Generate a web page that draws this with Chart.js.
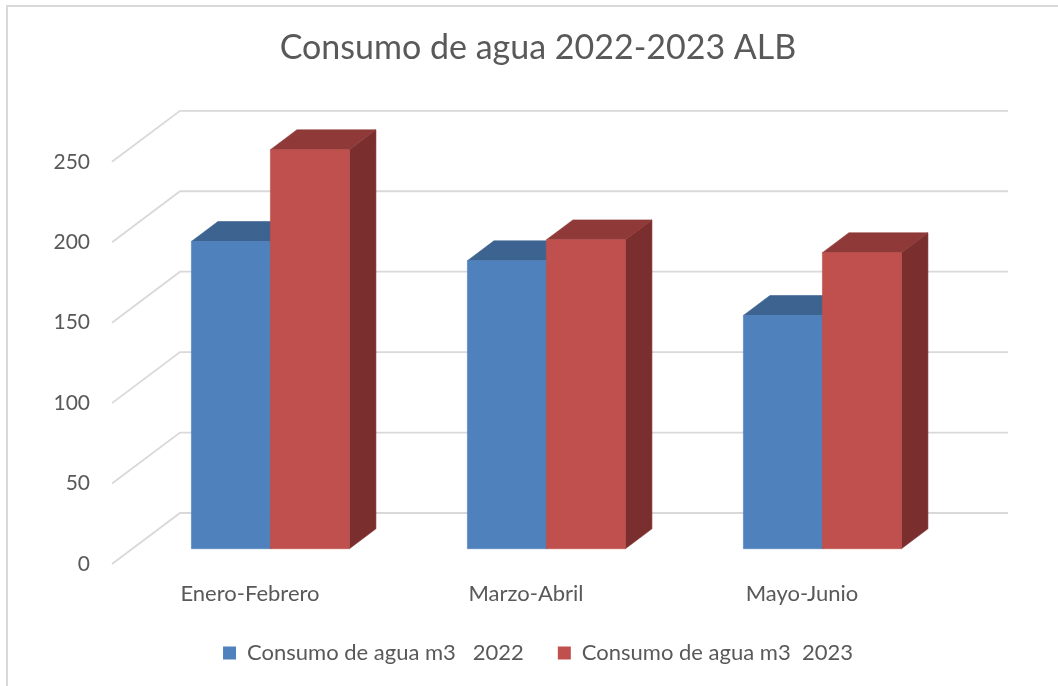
<!DOCTYPE html>
<html>
<head>
<meta charset="utf-8">
<script src="https://cdn.jsdelivr.net/npm/chart.js@4"></script>
<style>
  html, body { margin: 0; padding: 0; background: #fff; }
</style>
</head>
<body>
<canvas id="graph-consumo" width="1058" height="686"></canvas>
<script>
'use strict';

// Données du graphique
const categories = ['Enero-Febrero', 'Marzo-Abril', 'Mayo-Junio'];
const consumo2022 = [191, 179, 145];
const consumo2023 = [248, 192, 184];
const seriesLabels = ['Consumo de agua m3   2022', 'Consumo de agua m3  2023'];
const yMax = 250;
const yStep = 50;

// Effet 3D : décalage du mur du fond et position des barres dans la profondeur
const DEPTH = { x: 68, y: -51 };
const FRONT = 0.3;
const BACK = 0.69;
const faceColors = [
    { front: '#4f81bd', top: '#3d6390', side: '#385d89' },
    { front: '#c0504d', top: '#8f3a38', side: '#7a2f2e' }
];
const textColor = '#595959';
const gridColor = '#d9d9d9';
const fontFamily = 'Lato, "Liberation Sans", sans-serif';

function poly(ctx, pts, color) {
    ctx.beginPath();
    ctx.moveTo(pts[0][0], pts[0][1]);
    for (let i = 1; i < pts.length; i++) ctx.lineTo(pts[i][0], pts[i][1]);
    ctx.closePath();
    ctx.fillStyle = color;
    ctx.fill();
    ctx.strokeStyle = color;
    ctx.lineWidth = 0.6;
    ctx.stroke();
}

const effet3d = {
    id: 'effet3d',
    beforeDraw(chart) {
        const ctx = chart.ctx;
        ctx.save();
        ctx.fillStyle = '#fff';
        ctx.fillRect(0, 0, chart.width, chart.height);
        // cadre gris (haut et gauche)
        ctx.fillStyle = gridColor;
        ctx.fillRect(6, 5, chart.width - 6, 2);
        ctx.fillRect(6, 5, 2, chart.height - 5);
        ctx.restore();
    },
    beforeDatasetsDraw(chart) {
        const ctx = chart.ctx;
        const y = chart.scales.y;
        const area = chart.chartArea;
        ctx.save();
        ctx.strokeStyle = gridColor;
        ctx.lineWidth = 1.8;
        y.ticks.forEach(t => {
            const py = y.getPixelForValue(t.value);
            ctx.beginPath();
            ctx.moveTo(area.left, py);
            ctx.lineTo(area.left + DEPTH.x, py + DEPTH.y);
            ctx.lineTo(area.right + DEPTH.x, py + DEPTH.y);
            ctx.stroke();
        });
        ctx.restore();
    },
    beforeDatasetDraw() {
        return false;
    },
    afterDatasetsDraw(chart) {
        const ctx = chart.ctx;
        const fx = FRONT * DEPTH.x, fy = FRONT * DEPTH.y;
        const dx = (BACK - FRONT) * DEPTH.x, dy = (BACK - FRONT) * DEPTH.y;
        ctx.save();
        categories.forEach((_, i) => {
            chart.data.datasets.forEach((ds, d) => {
                const el = chart.getDatasetMeta(d).data[i];
                const p = el.getProps(['x', 'y', 'base', 'width'], true);
                const x0 = p.x - p.width / 2 + fx, x1 = p.x + p.width / 2 + fx;
                const yt = p.y + fy, yb = p.base + fy;
                const c = faceColors[d];
                poly(ctx, [[x1, yt], [x1 + dx, yt + dy], [x1 + dx, yb + dy], [x1, yb]], c.side);
                poly(ctx, [[x0, yt], [x1, yt], [x1 + dx, yt + dy], [x0 + dx, yt + dy]], c.top);
                poly(ctx, [[x0, yt], [x1, yt], [x1, yb], [x0, yb]], c.front);
            });
        });
        ctx.restore();
    }
};

const ctx = document.getElementById('graph-consumo').getContext('2d');
new Chart(ctx, {
    type: 'bar',
    data: {
        labels: categories,
        datasets: [
            { label: seriesLabels[0], data: consumo2022, backgroundColor: faceColors[0].front, borderWidth: 0 },
            { label: seriesLabels[1], data: consumo2023, backgroundColor: faceColors[1].front, borderWidth: 0 }
        ]
    },
    options: {
        responsive: false,
        animation: false,
        layout: { padding: { left: 18, right: 0, top: 0, bottom: 12 } },
        datasets: { bar: { barPercentage: 1, categoryPercentage: 0.5725, clip: false } },
        plugins: {
            title: {
                display: true,
                text: 'Consumo de agua 2022-2023 ALB',
                color: textColor,
                font: { family: fontFamily, size: 34, weight: 'normal' },
                padding: { top: 28, bottom: 93 }
            },
            legend: {
                position: 'bottom',
                labels: {
                    color: textColor,
                    font: { family: fontFamily, size: 22 },
                    boxWidth: 13,
                    boxHeight: 13,
                    padding: 34
                }
            },
            tooltip: { enabled: false }
        },
        scales: {
            x: {
                grid: { display: false, drawTicks: false },
                border: { display: false },
                ticks: { color: textColor, font: { family: fontFamily, size: 22, lineHeight: 1 }, padding: 19 },
                afterFit: s => { s.height = 44; }
            },
            y: {
                min: 0,
                max: yMax,
                grid: { display: false, drawTicks: false },
                border: { display: false },
                ticks: { stepSize: yStep, color: textColor, font: { family: fontFamily, size: 21 }, padding: 22 },
                afterFit: s => { s.width = 94; }
            },
            // axe vide à droite pour laisser la place au mur du fond
            y2: {
                type: 'linear',
                position: 'right',
                grid: { display: false, drawTicks: false },
                border: { display: false },
                ticks: { display: false },
                afterFit: s => { s.width = 118; }
            }
        }
    },
    plugins: [effet3d]
});
</script>
</body>
</html>
